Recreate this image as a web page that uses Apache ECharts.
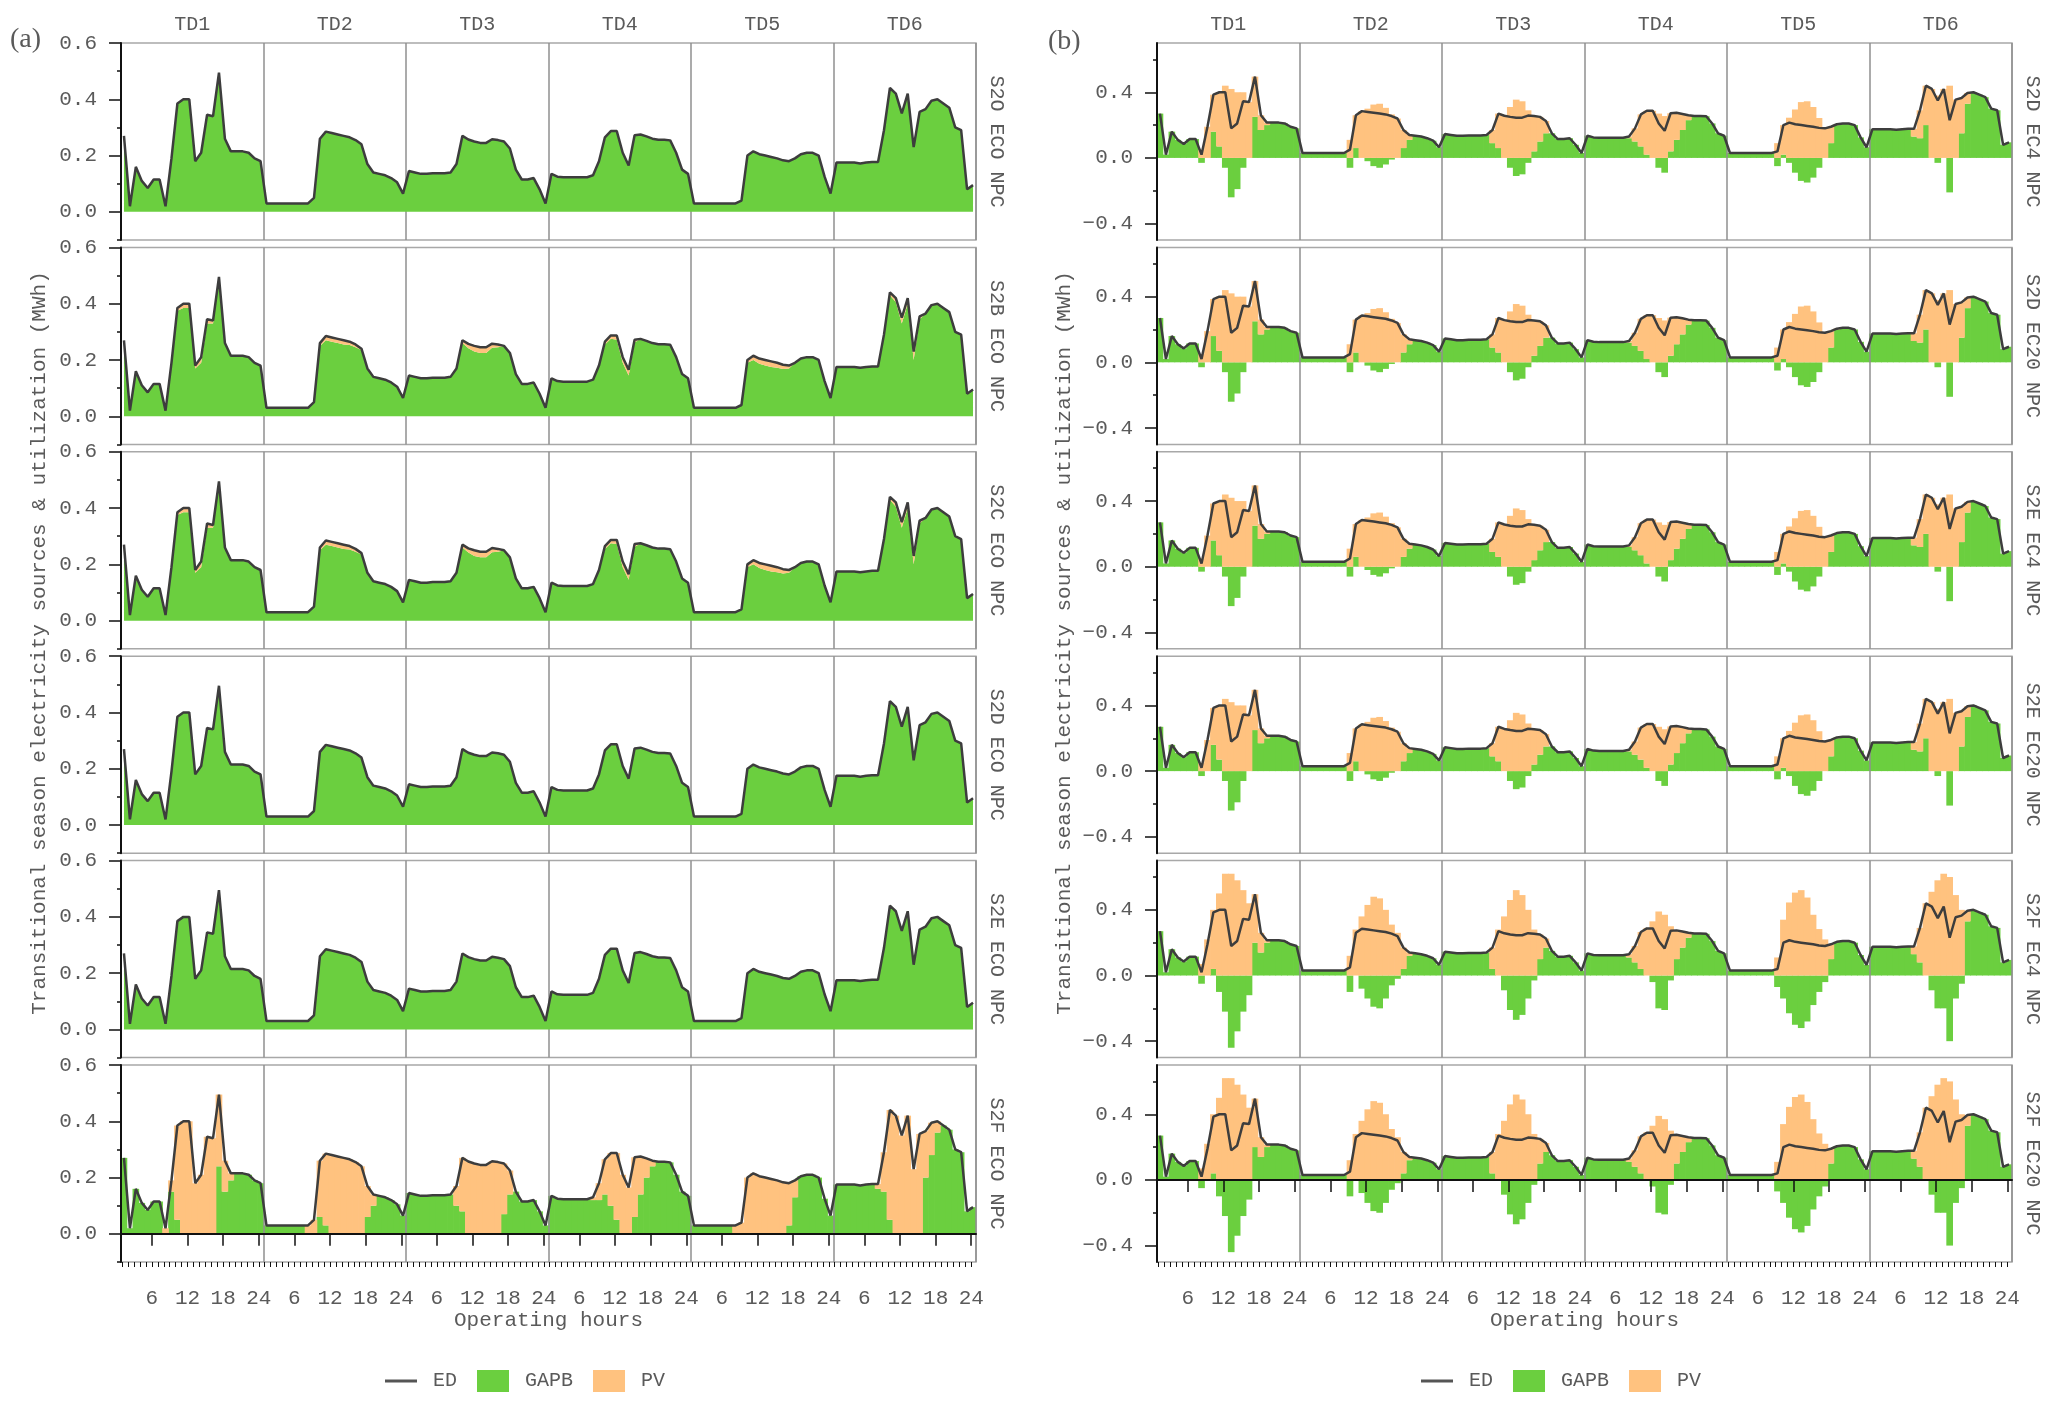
<!DOCTYPE html>
<html lang="en">
<head>
<meta charset="UTF-8">
<title>Transitional season electricity sources &amp; utilization</title>
<style>
  * { margin: 0; padding: 0; }
  body { background: #fff; }
  #main { width: 2054px; height: 1403px; }
</style>
</head>
<body>
<div id="main"></div>
<script src="https://cdn.jsdelivr.net/npm/echarts@6/dist/echarts.min.js"></script>
<script>
// categories / labels
const TDS = ['TD1', 'TD2', 'TD3', 'TD4', 'TD5', 'TD6'];
const ROWS_A = ['S2O ECO NPC', 'S2B ECO NPC', 'S2C ECO NPC', 'S2D ECO NPC', 'S2E ECO NPC', 'S2F ECO NPC'];
const ROWS_B = ['S2D EC4 NPC', 'S2D EC20 NPC', 'S2E EC4 NPC', 'S2E EC20 NPC', 'S2F EC4 NPC', 'S2F EC20 NPC'];
const HOUR_TICKS = [6, 12, 18, 24];
const Y_TICKS_A = [0, 0.2, 0.4, 0.6];
const Y_TICKS_B = [-0.4, 0, 0.4];

// electricity demand, hourly, TD1..TD6 (MWh)
const ED = [
  0.27, 0.02, 0.16, 0.11, 0.085, 0.115, 0.115, 0.02, 0.19, 0.385, 0.40, 0.40, 0.18, 0.21, 0.345, 0.34, 0.495, 0.26, 0.215, 0.215, 0.215, 0.21, 0.19, 0.18,
  0.03, 0.03, 0.03, 0.03, 0.03, 0.03, 0.03, 0.03, 0.05, 0.26, 0.285, 0.28, 0.275, 0.27, 0.265, 0.255, 0.24, 0.17, 0.14, 0.135, 0.13, 0.12, 0.105, 0.065,
  0.145, 0.14, 0.135, 0.135, 0.137, 0.137, 0.137, 0.14, 0.17, 0.27, 0.257, 0.25, 0.245, 0.245, 0.258, 0.255, 0.25, 0.225, 0.15, 0.115, 0.115, 0.12, 0.08, 0.03,
  0.135, 0.125, 0.123, 0.123, 0.123, 0.123, 0.123, 0.13, 0.18, 0.265, 0.287, 0.287, 0.21, 0.165, 0.272, 0.275, 0.268, 0.26, 0.256, 0.256, 0.254, 0.21, 0.15, 0.135,
  0.03, 0.03, 0.03, 0.03, 0.03, 0.03, 0.03, 0.03, 0.04, 0.2, 0.215, 0.205, 0.2, 0.195, 0.19, 0.183, 0.18, 0.19, 0.205, 0.21, 0.21, 0.2, 0.125, 0.065,
  0.175, 0.175, 0.175, 0.175, 0.172, 0.175, 0.177, 0.177, 0.29, 0.44, 0.42, 0.35, 0.42, 0.23, 0.355, 0.365, 0.395, 0.40, 0.385, 0.37, 0.30, 0.29, 0.08, 0.095
];

// S2B / S2C ECO NPC: small PV share
const PV_S2B = [
  0, 0, 0, 0, 0, 0, 0, 0, 0, 0.01, 0.015, 0.015, 0.01, 0.02, 0.015, 0.01, 0, 0, 0, 0, 0, 0, 0, 0,
  0, 0, 0, 0, 0, 0, 0, 0, 0, 0.01, 0.015, 0.015, 0.015, 0.015, 0.012, 0.01, 0.005, 0, 0, 0, 0, 0, 0, 0,
  0, 0, 0, 0, 0, 0, 0, 0, 0, 0.01, 0.015, 0.02, 0.02, 0.02, 0.015, 0.01, 0, 0, 0, 0, 0, 0, 0, 0,
  0, 0, 0, 0, 0, 0, 0, 0, 0, 0.01, 0.012, 0.015, 0.02, 0.02, 0.01, 0, 0, 0, 0, 0, 0, 0, 0, 0,
  0, 0, 0, 0, 0, 0, 0, 0, 0, 0.01, 0.015, 0.018, 0.02, 0.02, 0.018, 0.015, 0.01, 0, 0, 0, 0, 0, 0, 0,
  0, 0, 0, 0, 0, 0, 0, 0, 0, 0.01, 0.015, 0.02, 0.02, 0.03, 0.01, 0, 0, 0, 0, 0, 0, 0, 0, 0
];
const GAPB_S2B = [
  0.27, 0.02, 0.16, 0.11, 0.085, 0.115, 0.115, 0.02, 0.19, 0.375, 0.385, 0.385, 0.17, 0.19, 0.33, 0.33, 0.495, 0.26, 0.215, 0.215, 0.215, 0.21, 0.19, 0.18,
  0.03, 0.03, 0.03, 0.03, 0.03, 0.03, 0.03, 0.03, 0.05, 0.25, 0.27, 0.265, 0.26, 0.255, 0.253, 0.245, 0.235, 0.17, 0.14, 0.135, 0.13, 0.12, 0.105, 0.065,
  0.145, 0.14, 0.135, 0.135, 0.137, 0.137, 0.137, 0.14, 0.17, 0.26, 0.242, 0.23, 0.225, 0.225, 0.243, 0.245, 0.25, 0.225, 0.15, 0.115, 0.115, 0.12, 0.08, 0.03,
  0.135, 0.125, 0.123, 0.123, 0.123, 0.123, 0.123, 0.13, 0.18, 0.255, 0.275, 0.272, 0.19, 0.145, 0.262, 0.275, 0.268, 0.26, 0.256, 0.256, 0.254, 0.21, 0.15, 0.135,
  0.03, 0.03, 0.03, 0.03, 0.03, 0.03, 0.03, 0.03, 0.04, 0.19, 0.2, 0.187, 0.18, 0.175, 0.172, 0.168, 0.17, 0.19, 0.205, 0.21, 0.21, 0.2, 0.125, 0.065,
  0.175, 0.175, 0.175, 0.175, 0.172, 0.175, 0.177, 0.177, 0.29, 0.43, 0.405, 0.33, 0.40, 0.20, 0.345, 0.365, 0.395, 0.40, 0.385, 0.37, 0.30, 0.29, 0.08, 0.095
];

// S2F ECO NPC
const PV_S2F = [
  0, 0, 0, 0, 0, 0, 0, 0.02, 0.04, 0.335, 0.40, 0.40, 0.18, 0.21, 0.345, 0.34, 0.255, 0.11, 0.025, 0, 0, 0, 0, 0,
  0, 0, 0, 0, 0, 0, 0, 0.03, 0.05, 0.2, 0.255, 0.28, 0.275, 0.27, 0.265, 0.255, 0.24, 0.11, 0.04, 0, 0, 0, 0, 0,
  0, 0, 0, 0, 0, 0, 0, 0, 0.07, 0.19, 0.257, 0.25, 0.245, 0.245, 0.258, 0.255, 0.18, 0.085, 0, 0, 0, 0, 0, 0,
  0, 0, 0, 0, 0, 0, 0, 0.01, 0.06, 0.125, 0.187, 0.237, 0.21, 0.165, 0.212, 0.135, 0.068, 0.02, 0, 0, 0, 0, 0, 0,
  0, 0, 0, 0, 0, 0, 0, 0.03, 0.04, 0.2, 0.215, 0.205, 0.2, 0.195, 0.19, 0.183, 0.15, 0.06, 0, 0, 0, 0, 0, 0,
  0, 0, 0, 0, 0, 0, 0, 0.017, 0.14, 0.39, 0.42, 0.35, 0.42, 0.23, 0.355, 0.165, 0.115, 0.04, 0, 0, 0, 0, 0, 0
];
const GAPB_S2F = [
  0.27, 0.02, 0.16, 0.11, 0.085, 0.115, 0.115, 0, 0.15, 0.05, 0, 0, 0, 0, 0, 0, 0.24, 0.15, 0.19, 0.215, 0.215, 0.21, 0.19, 0.18,
  0.03, 0.03, 0.03, 0.03, 0.03, 0.03, 0.03, 0, 0, 0.06, 0.03, 0, 0, 0, 0, 0, 0, 0.06, 0.1, 0.135, 0.13, 0.12, 0.105, 0.065,
  0.145, 0.14, 0.135, 0.135, 0.137, 0.137, 0.137, 0.14, 0.1, 0.08, 0, 0, 0, 0, 0, 0, 0.07, 0.14, 0.15, 0.115, 0.115, 0.12, 0.08, 0.03,
  0.135, 0.125, 0.123, 0.123, 0.123, 0.123, 0.123, 0.12, 0.12, 0.14, 0.1, 0.05, 0, 0, 0.06, 0.14, 0.2, 0.24, 0.256, 0.256, 0.254, 0.21, 0.15, 0.135,
  0.03, 0.03, 0.03, 0.03, 0.03, 0.03, 0.03, 0, 0, 0, 0, 0, 0, 0, 0, 0, 0.03, 0.13, 0.205, 0.21, 0.21, 0.2, 0.125, 0.065,
  0.175, 0.175, 0.175, 0.175, 0.172, 0.175, 0.177, 0.16, 0.15, 0.05, 0, 0, 0, 0, 0, 0.2, 0.28, 0.36, 0.385, 0.37, 0.30, 0.29, 0.08, 0.095
];

// S2D / S2E with EC4 / EC20
const PV_S2DE_EC = [
  0, 0, 0, 0, 0, 0, 0, 0.05, 0.19, 0.225, 0.33, 0.44, 0.42, 0.40, 0.40, 0.34, 0.245, 0.09, 0.015, 0, 0, 0, 0, 0,
  0, 0, 0, 0, 0, 0, 0, 0, 0.11, 0.2, 0.285, 0.30, 0.325, 0.33, 0.305, 0.265, 0.24, 0.11, 0.03, 0, 0, 0, 0, 0,
  0, 0, 0, 0, 0, 0, 0, 0, 0.08, 0.21, 0.257, 0.31, 0.355, 0.345, 0.29, 0.215, 0.15, 0.075, 0, 0, 0, 0, 0, 0,
  0, 0, 0, 0, 0, 0, 0, 0.01, 0.08, 0.195, 0.267, 0.287, 0.27, 0.255, 0.232, 0.165, 0.098, 0.03, 0, 0, 0, 0, 0, 0,
  0, 0, 0, 0, 0, 0, 0, 0, 0.09, 0.18, 0.245, 0.295, 0.34, 0.345, 0.31, 0.243, 0.18, 0.10, 0.005, 0, 0, 0, 0, 0,
  0, 0, 0, 0, 0, 0, 0, 0.047, 0.17, 0.24, 0.42, 0.38, 0.42, 0.44, 0.355, 0.215, 0.065, 0, 0, 0, 0, 0, 0, 0
];
const GAPB_S2DE_EC = [
  0.27, 0.02, 0.16, 0.11, 0.085, 0.115, 0.115, -0.03, 0, 0.16, 0.07, -0.06, -0.24, -0.19, -0.06, 0, 0.25, 0.17, 0.2, 0.215, 0.215, 0.21, 0.19, 0.18,
  0.03, 0.03, 0.03, 0.03, 0.03, 0.03, 0.03, 0.03, -0.06, 0.06, 0, -0.02, -0.05, -0.06, -0.04, -0.01, 0, 0.06, 0.11, 0.135, 0.13, 0.12, 0.105, 0.065,
  0.145, 0.14, 0.135, 0.135, 0.137, 0.137, 0.137, 0.14, 0.09, 0.06, 0, -0.06, -0.11, -0.1, -0.03, 0.04, 0.1, 0.15, 0.15, 0.115, 0.115, 0.12, 0.08, 0.03,
  0.135, 0.125, 0.123, 0.123, 0.123, 0.123, 0.123, 0.12, 0.1, 0.07, 0.02, 0, -0.06, -0.09, 0.04, 0.11, 0.17, 0.23, 0.256, 0.256, 0.254, 0.21, 0.15, 0.135,
  0.03, 0.03, 0.03, 0.03, 0.03, 0.03, 0.03, 0.03, -0.05, 0.02, -0.03, -0.09, -0.14, -0.15, -0.12, -0.06, 0, 0.09, 0.2, 0.21, 0.21, 0.2, 0.125, 0.065,
  0.175, 0.175, 0.175, 0.175, 0.172, 0.175, 0.177, 0.13, 0.12, 0.2, 0, -0.03, 0, -0.21, 0, 0.15, 0.33, 0.40, 0.385, 0.37, 0.30, 0.29, 0.08, 0.095
];

// S2F with EC4 / EC20
const PV_S2F_EC = [
  0, 0, 0, 0, 0, 0, 0, 0.07, 0.22, 0.36, 0.5, 0.62, 0.62, 0.58, 0.52, 0.44, 0.295, 0.12, 0.015, 0, 0, 0, 0, 0,
  0, 0, 0, 0, 0, 0, 0, 0, 0.12, 0.28, 0.36, 0.43, 0.48, 0.47, 0.4, 0.31, 0.26, 0.13, 0.02, 0, 0, 0, 0, 0,
  0, 0, 0, 0, 0, 0, 0, 0, 0.13, 0.28, 0.36, 0.46, 0.52, 0.49, 0.4, 0.28, 0.15, 0.055, 0, 0, 0, 0, 0, 0,
  0, 0, 0, 0, 0, 0, 0, 0.02, 0.1, 0.225, 0.29, 0.33, 0.39, 0.37, 0.3, 0.175, 0.098, 0.03, 0, 0, 0, 0, 0, 0,
  0, 0, 0, 0, 0, 0, 0, 0, 0.11, 0.34, 0.445, 0.505, 0.52, 0.475, 0.37, 0.283, 0.22, 0.09, 0, 0, 0, 0, 0, 0,
  0, 0, 0, 0, 0, 0, 0, 0.047, 0.21, 0.44, 0.51, 0.58, 0.62, 0.6, 0.49, 0.4, 0.065, 0, 0, 0, 0, 0, 0, 0
];
const GAPB_S2F_EC = [
  0.27, 0.02, 0.16, 0.11, 0.085, 0.115, 0.115, -0.05, 0, 0.04, -0.1, -0.22, -0.44, -0.34, -0.22, -0.12, 0.2, 0.14, 0.2, 0.215, 0.215, 0.21, 0.19, 0.18,
  0.03, 0.03, 0.03, 0.03, 0.03, 0.03, 0.03, 0.03, -0.1, 0, -0.08, -0.14, -0.19, -0.2, -0.14, -0.06, -0.02, 0.04, 0.12, 0.135, 0.13, 0.12, 0.105, 0.065,
  0.145, 0.14, 0.135, 0.135, 0.137, 0.137, 0.137, 0.14, 0.04, 0, -0.09, -0.21, -0.27, -0.24, -0.14, -0.03, 0.1, 0.17, 0.15, 0.115, 0.115, 0.12, 0.08, 0.03,
  0.135, 0.125, 0.123, 0.123, 0.123, 0.123, 0.123, 0.11, 0.08, 0.04, 0, -0.04, -0.2, -0.21, -0.03, 0.1, 0.17, 0.23, 0.256, 0.256, 0.254, 0.21, 0.15, 0.135,
  0.03, 0.03, 0.03, 0.03, 0.03, 0.03, 0.03, 0.03, -0.07, -0.14, -0.23, -0.3, -0.32, -0.28, -0.18, -0.1, -0.04, 0.1, 0.205, 0.21, 0.21, 0.2, 0.125, 0.065,
  0.175, 0.175, 0.175, 0.175, 0.172, 0.175, 0.177, 0.13, 0.08, 0, -0.09, -0.2, -0.2, -0.4, -0.14, -0.05, 0.33, 0.40, 0.385, 0.37, 0.30, 0.29, 0.08, 0.095
];

// which arrays go in which row (bars = stepped hourly fill)
const ROW_DATA_A = [
  { gapb: ED, pv: null, bars: false },
  { gapb: GAPB_S2B, pv: PV_S2B, bars: false },
  { gapb: GAPB_S2B, pv: PV_S2B, bars: false },
  { gapb: ED, pv: null, bars: false },
  { gapb: ED, pv: null, bars: false },
  { gapb: GAPB_S2F, pv: PV_S2F, bars: true }
];
const ROW_DATA_B = [
  { gapb: GAPB_S2DE_EC, pv: PV_S2DE_EC, bars: true },
  { gapb: GAPB_S2DE_EC, pv: PV_S2DE_EC, bars: true },
  { gapb: GAPB_S2DE_EC, pv: PV_S2DE_EC, bars: true },
  { gapb: GAPB_S2DE_EC, pv: PV_S2DE_EC, bars: true },
  { gapb: GAPB_S2F_EC, pv: PV_S2F_EC, bars: true },
  { gapb: GAPB_S2F_EC, pv: PV_S2F_EC, bars: true }
];

// layout + style
const PANEL_LEFT = [121, 1157];
const PLOT_W = 855;
const ROW_TOP = 43, ROW_PITCH = 204.4, ROW_H = 197;
const GREEN = '#6bcf3f', ORANGE = '#ffc27f', LINE = '#3d3d3d';
const FONT = 'Liberation Mono', TEXT = '#5a5a5a';
const Y_TITLE = 'Transitional season electricity sources & utilization (MWh)';
const HOUR_SLOTS = ED.map((v, i) => String(i));

const fmtY = v => (v < 0 ? '\u2212' : '') + Math.abs(v).toFixed(1);
const txt = size => ({ fontFamily: FONT, fontSize: size, color: TEXT });

let grid = [], xAxis = [], yAxis = [], series = [];

function addRow(panel, r, label, row, yr) {
  const g = grid.length;
  grid.push({
    left: PANEL_LEFT[panel], top: ROW_TOP + r * ROW_PITCH, width: PLOT_W, height: ROW_H,
    show: true, borderColor: '#a8a8a8', borderWidth: 1.5, outerBoundsMode: 'none'
  });

  // hourly slots that carry the series
  const xi = xAxis.length;
  xAxis.push({ gridIndex: g, type: 'category', data: HOUR_SLOTS, boundaryGap: true, show: false });

  // TD separators
  xAxis.push({
    gridIndex: g, type: 'value', min: 0, max: 144, interval: 24, z: 3,
    axisLine: { show: false }, axisTick: { show: false }, axisLabel: { show: false },
    splitLine: { show: true, lineStyle: { color: '#8f8f8f', width: 1.5 } }
  });
  if (r === 0) {
    xAxis.push({
      gridIndex: g, type: 'value', position: 'top', min: 0, max: 144,
      axisLine: { show: false }, axisTick: { show: false }, splitLine: { show: false },
      axisLabel: Object.assign({
        customValues: TDS.map((t, i) => i * 24 + 12),
        formatter: v => TDS[Math.round((v - 12) / 24)], margin: 8
      }, txt(20))
    });
  }
  if (r === 5) {
    const major = [], minor = [];
    for (let h = 1; h <= 144; h++) { minor.push(h); if (h % 6 === 0) major.push(h); }
    xAxis.push({
      gridIndex: g, type: 'value', position: 'bottom', min: 0.8, max: 144.8, z: 5,
      axisLine: { show: true, lineStyle: { color: '#111', width: 2 } },
      axisTick: { show: true, customValues: major, length: 12, lineStyle: { color: '#111', width: 1.5 } },
      splitLine: { show: false },
      axisLabel: Object.assign({
        customValues: major, margin: 26,
        formatter: v => String(HOUR_TICKS[(Math.round(v / 6) - 1) % 4])
      }, txt(21)),
      name: 'Operating hours', nameLocation: 'middle', nameGap: 48, nameTextStyle: txt(21)
    });
    xAxis.push({
      gridIndex: g, type: 'value', position: 'bottom', min: 0.8, max: 144.8, z: 5,
      axisLine: { show: false }, axisLabel: { show: false }, splitLine: { show: false },
      axisTick: { show: true, customValues: minor, length: 5, lineStyle: { color: '#111', width: 1 } }
    });
  }

  const yi = yAxis.length;
  yAxis.push({
    gridIndex: g, type: 'value', position: 'left', min: yr.min, max: yr.max, z: 5,
    axisLine: { show: true, lineStyle: { color: '#111', width: 2 } },
    axisTick: { show: true, customValues: yr.major, length: 12, lineStyle: { color: '#111', width: 1.5 } },
    axisLabel: Object.assign({ customValues: yr.major, formatter: fmtY, margin: 24 }, txt(21)),
    splitLine: { show: false }
  });
  yAxis.push({
    gridIndex: g, type: 'value', position: 'left', min: yr.min, max: yr.max, z: 5,
    axisLine: { show: false }, axisLabel: { show: false }, splitLine: { show: false },
    axisTick: { show: true, customValues: yr.minor, length: 4, lineStyle: { color: '#111', width: 1.5 } }
  });
  yAxis.push({
    gridIndex: g, type: 'value', position: 'right', min: yr.min, max: yr.max,
    axisLine: { show: false }, axisTick: { show: false }, axisLabel: { show: false }, splitLine: { show: false },
    name: label, nameLocation: 'middle', nameRotate: -90, nameGap: 10, nameTextStyle: txt(20)
  });

  const base = { xAxisIndex: xi, yAxisIndex: yi, silent: true, stack: 'row' + g };
  if (row.bars) {
    series.push(Object.assign({ name: 'GAPB', type: 'bar', barWidth: '112%', data: row.gapb,
      itemStyle: { color: GREEN } }, base));
    series.push(Object.assign({ name: 'PV', type: 'bar', barWidth: '112%', data: row.pv,
      itemStyle: { color: ORANGE } }, base));
  } else {
    series.push(Object.assign({ name: 'GAPB', type: 'line', symbol: 'none', data: row.gapb,
      lineStyle: { width: 0, color: GREEN }, itemStyle: { color: GREEN },
      areaStyle: { color: GREEN, opacity: 1 } }, base));
    if (row.pv) {
      series.push(Object.assign({ name: 'PV', type: 'line', symbol: 'none', data: row.pv,
        lineStyle: { width: 0, color: ORANGE }, itemStyle: { color: ORANGE },
        areaStyle: { color: ORANGE, opacity: 1 } }, base));
    }
  }
  series.push({
    name: 'ED', type: 'line', xAxisIndex: xi, yAxisIndex: yi, silent: true, z: 6,
    symbol: 'none', data: ED, lineStyle: { color: LINE, width: 2.5 }, itemStyle: { color: LINE }
  });
}

const Y_A = { min: -0.1, max: 0.6, major: Y_TICKS_A, minor: [-0.1, 0.1, 0.3, 0.5] };
const Y_B = { min: -0.5, max: 0.7, major: Y_TICKS_B, minor: [-0.2, 0.2, 0.6] };
ROWS_A.forEach((lab, r) => addRow(0, r, lab, ROW_DATA_A[r], Y_A));
ROWS_B.forEach((lab, r) => addRow(1, r, lab, ROW_DATA_B[r], Y_B));

const legendItems = [
  { name: 'ED', icon: 'path://M0,0L32,0L32,3L0,3Z', itemStyle: { color: '#555' } },
  { name: 'GAPB', icon: 'rect', itemStyle: { color: GREEN } },
  { name: 'PV', icon: 'rect', itemStyle: { color: ORANGE } }
];
const legend = [380, 1416].map(left => ({
  left: left, top: 1365, orient: 'horizontal', itemWidth: 32, itemHeight: 22, itemGap: 20,
  symbolKeepAspect: true, selectedMode: false, data: legendItems,
  textStyle: Object.assign({ padding: [0, 0, 0, 11] }, txt(20))
}));

const graphic = [
  { type: 'text', x: 39, y: 643, rotation: Math.PI / 2,
    style: { text: Y_TITLE, font: '21px "Liberation Mono"', fill: TEXT, align: 'center', verticalAlign: 'middle' } },
  { type: 'text', x: 1064, y: 643, rotation: Math.PI / 2,
    style: { text: Y_TITLE, font: '21px "Liberation Mono"', fill: TEXT, align: 'center', verticalAlign: 'middle' } },
  { type: 'text', x: 10, y: 40,
    style: { text: '(a)', font: '28px "Liberation Serif"', fill: TEXT, align: 'left', verticalAlign: 'middle' } },
  { type: 'text', x: 1048, y: 42,
    style: { text: '(b)', font: '28px "Liberation Serif"', fill: TEXT, align: 'left', verticalAlign: 'middle' } }
];

const option = {
  animation: false,
  backgroundColor: '#fff',
  grid: grid, xAxis: xAxis, yAxis: yAxis, series: series,
  legend: legend, graphic: graphic
};

initChart(option);

function initChart(option) {
  let myChart = echarts.init(document.getElementById('main'));
  myChart.setOption(option);
  window.addEventListener('resize', () => myChart.resize());
}
</script>
</body>
</html>
